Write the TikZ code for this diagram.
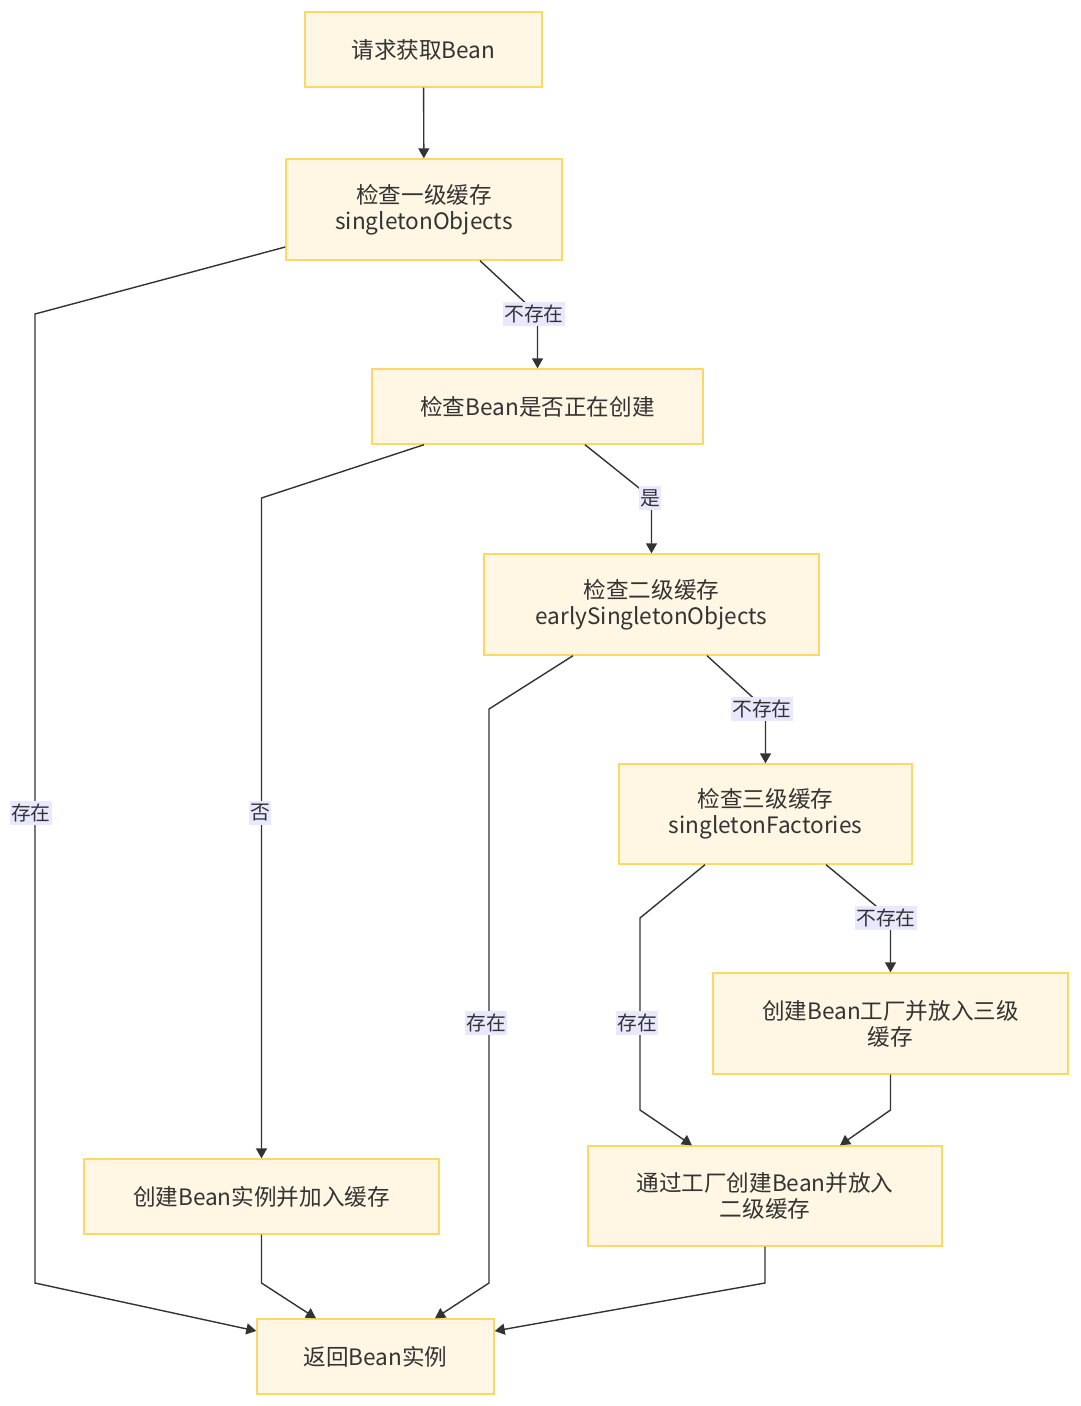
\documentclass[tikz,border=0pt]{standalone}
\usepackage{fontspec}
\setmainfont{Noto Sans CJK SC}
\usetikzlibrary{arrows.meta}
\definecolor{nfill}{HTML}{FFF7E4}
\definecolor{nborder}{HTML}{FFD766}
\definecolor{lblbg}{HTML}{E8E8FF}
\definecolor{ink}{HTML}{333333}
\tikzset{
  box/.style={draw=nborder, fill=nfill, line width=1.4pt, text=ink, align=center,
    font=\fontsize{22.6pt}{26pt}\selectfont, inner sep=0pt},
  arr/.style={draw=ink, line width=1.4pt, -{Triangle[length=10pt,width=11pt]}},
  lbl/.style={fill=lblbg, text=ink, font=\fontsize{19.8pt}{24pt}\selectfont,
    inner xsep=1.5pt, inner ysep=3pt}
}
\begin{document}
\begin{tikzpicture}[x=1pt,y=-1pt]
\useasboundingbox (0,0) rectangle (1080,1406);
\fill[white] (0,0) rectangle (1080,1406);
% nodes
\node[box, minimum width=237pt, minimum height=75pt] (n1) at (423.5,49.5) {请求获取Bean};
\node[box, minimum width=276pt, minimum height=101pt] (n2) at (424,209.5) {检查一级缓存\\singletonObjects};
\node[box, minimum width=331pt, minimum height=75pt] (n3) at (537.5,406.5) {检查Bean是否正在创建};
\node[box, minimum width=335pt, minimum height=101pt] (n4) at (651.5,604.5) {检查二级缓存\\earlySingletonObjects};
\node[box, minimum width=293pt, minimum height=100pt] (n5) at (765.5,814) {检查三级缓存\\singletonFactories};
\node[box, minimum width=355pt, minimum height=101pt] (n6) at (890.5,1023.5) {创建Bean工厂并放入三级\\缓存};
\node[box, minimum width=354pt, minimum height=100pt] (n7) at (765,1196) {通过工厂创建Bean并放入\\二级缓存};
\node[box, minimum width=355pt, minimum height=75pt] (n8) at (261.5,1196.5) {创建Bean实例并加入缓存};
\node[box, minimum width=237pt, minimum height=75pt] (n9) at (375.5,1356.5) {返回Bean实例};
% edges
\draw[arr] (n1) -- (n2);
\draw[arr] ([yshift=-37.5pt]n2.west) -- (35,314) -- (35,1283) -- ([yshift=25.5pt]n9.west);
\draw[arr] ([xshift=56pt]n2.south) -- (537.5,314) -- (n3.north);
\draw[arr] ([xshift=-113.5pt]n3.south) -- (261.5,498) -- (n8.north);
\draw[arr] ([xshift=47.5pt]n3.south) -- (651.5,498) -- (n4.north);
\draw[arr] ([xshift=-78.5pt]n4.south) -- (489,709) -- (489,1283) -- ([xshift=59.5pt]n9.north);
\draw[arr] ([xshift=55.5pt]n4.south) -- (765.5,709) -- (n5.north);
\draw[arr] ([xshift=-60.5pt]n5.south) -- (640,918) -- (640,1110) -- ([xshift=-73pt]n7.north);
\draw[arr] ([xshift=60.5pt]n5.south) -- (890.5,918) -- (n6.north);
\draw[arr] (n6.south) -- (890.5,1110) -- ([xshift=75pt]n7.north);
\draw[arr] (n8.south) -- (261.5,1283) -- ([xshift=-59.5pt]n9.north);
\draw[arr] (n7.south) -- (765,1283) -- ([yshift=25.5pt]n9.east);
% labels
\node[lbl] (l1) at (31,813) {存在};
\node[lbl] (l2) at (534,314) {不存在};
\node[lbl] (l3) at (260,813) {否};
\node[lbl] (l4) at (650,498) {是};
\node[lbl] (l5) at (486,1023) {存在};
\node[lbl] (l6) at (762,709) {不存在};
\node[lbl] (l7) at (637,1023) {存在};
\node[lbl] (l8) at (886,918) {不存在};
\end{tikzpicture}
\end{document}
